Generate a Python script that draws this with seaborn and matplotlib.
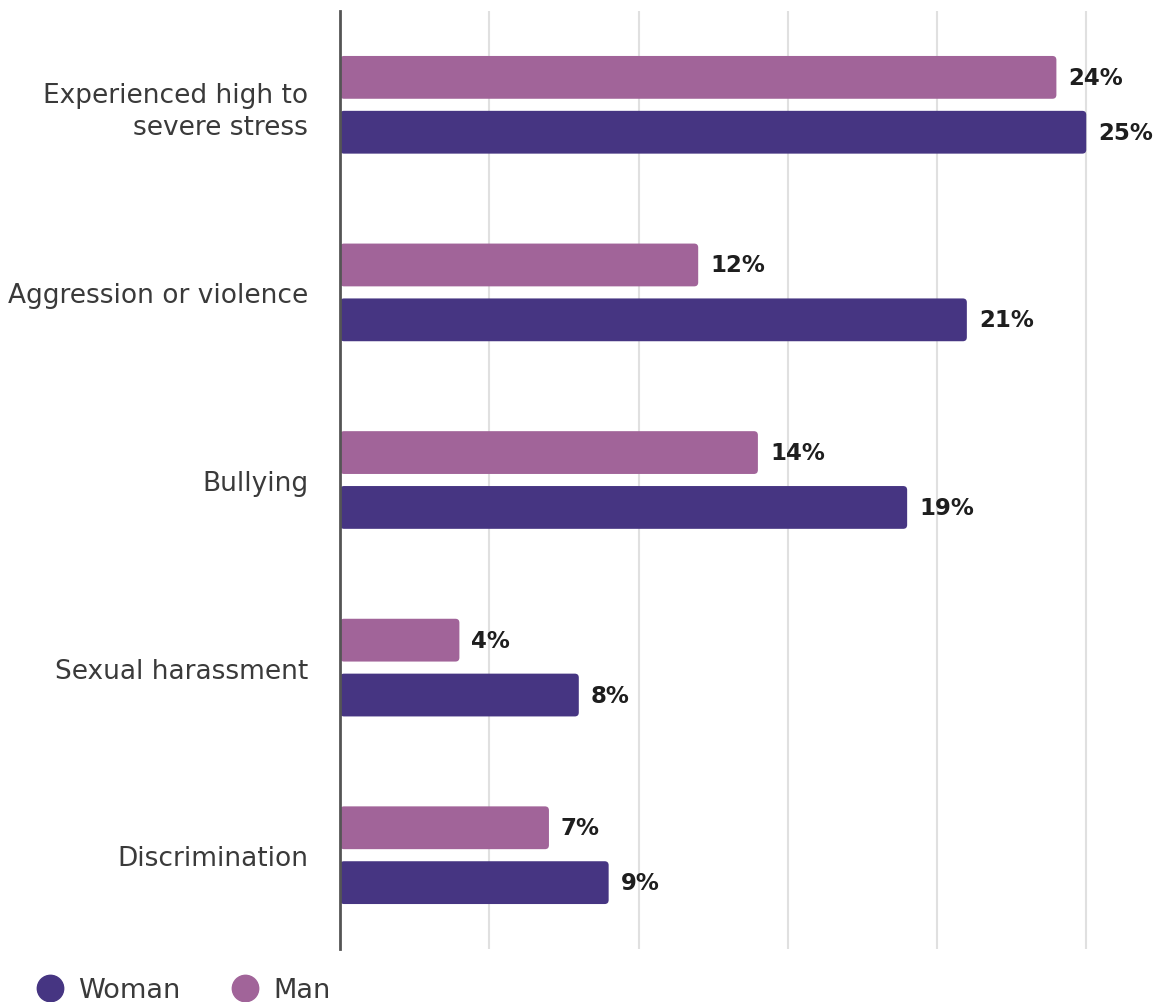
import matplotlib
matplotlib.use("Agg")
import matplotlib.pyplot as plt
from matplotlib.lines import Line2D
from matplotlib.patches import FancyBboxPatch
import seaborn as sns
import pandas as pd

categories = ["Experienced high to\nsevere stress", "Aggression or violence", "Bullying",
              "Sexual harassment", "Discrimination"]
man = [24, 12, 14, 4, 7]
woman = [25, 21, 19, 8, 9]
groups = ["Man", "Woman"]
colors = {"Man": "#A16499", "Woman": "#463582"}

df = pd.DataFrame({
    "category": categories * 2,
    "value": man + woman,
    "group": ["Man"] * len(categories) + ["Woman"] * len(categories),
})

sns.set_style("white")
plt.rcParams["font.family"] = ["DejaVu Sans"]

W, H = 1154, 1003
fig = plt.figure(figsize=(W / 100, H / 100), dpi=100)
ax = fig.add_axes([340 / W, 1 - 950 / H, (1150 - 340) / W, (950 - 12) / H])

sns.barplot(data=df, y="category", x="value", hue="group", hue_order=groups,
            order=categories, palette=colors, orient="h", width=0.585, gap=0.22,
            ax=ax, legend=False, saturation=1)

px_x = 29.85
px_y = 188.0
xmax = (1150 - 340) / px_x
ax.set_xlim(0, xmax)
ax.set_ylim(len(categories) - 0.5, -0.5)

# rounded bars
r_px = 4
bars = list(ax.patches)
for p in bars:
    x, y = p.get_x(), p.get_y()
    w, h = p.get_width(), p.get_height()
    fc = p.get_facecolor()
    p.remove()
    fb = FancyBboxPatch((x, y), w, h,
                        boxstyle=f"round,pad=0,rounding_size={r_px / px_x}",
                        mutation_aspect=px_x / px_y, facecolor=fc, edgecolor="none",
                        zorder=2)
    ax.add_patch(fb)

# value labels
off = 0.585 / 4
for i, cat in enumerate(categories):
    ax.text(man[i] + 12 / px_x, i - off, f"{man[i]}%", va="center", ha="left",
            fontsize=16.5, fontweight="bold", color="#1e1e1e")
    ax.text(woman[i] + 12 / px_x, i + off, f"{woman[i]}%", va="center", ha="left",
            fontsize=16.5, fontweight="bold", color="#1e1e1e")

ax.set_xticks([5, 10, 15, 20, 25])
ax.set_xticklabels([])
ax.xaxis.grid(True, color="#e0e0e0", linewidth=1.5, zorder=0)
ax.set_axisbelow(True)
ax.tick_params(axis="both", length=0)
ax.tick_params(axis="y", pad=23, labelsize=19, labelcolor="#3a3a3a")
ax.set_xlabel("")
ax.set_ylabel("")
for s in ["top", "right", "bottom"]:
    ax.spines[s].set_visible(False)
ax.spines["left"].set_color("#555555")
ax.spines["left"].set_linewidth(2)
for t in ax.get_yticklabels():
    t.set_multialignment("right")
    t.set_linespacing(1.3)

handles = [Line2D([], [], marker="o", linestyle="", markersize=19,
                  markerfacecolor=colors[g], markeredgecolor=colors[g], label=g)
           for g in ["Woman", "Man"]]
fig.legend(handles=handles, loc="center left", bbox_to_anchor=(12 / W, 1 - 991 / H),
           ncol=2, frameon=False, fontsize=19.5, handlelength=1.0, handletextpad=0.54,
           columnspacing=1.9, labelcolor="#3a3a3a")

fig.savefig("out.png", dpi=100)
